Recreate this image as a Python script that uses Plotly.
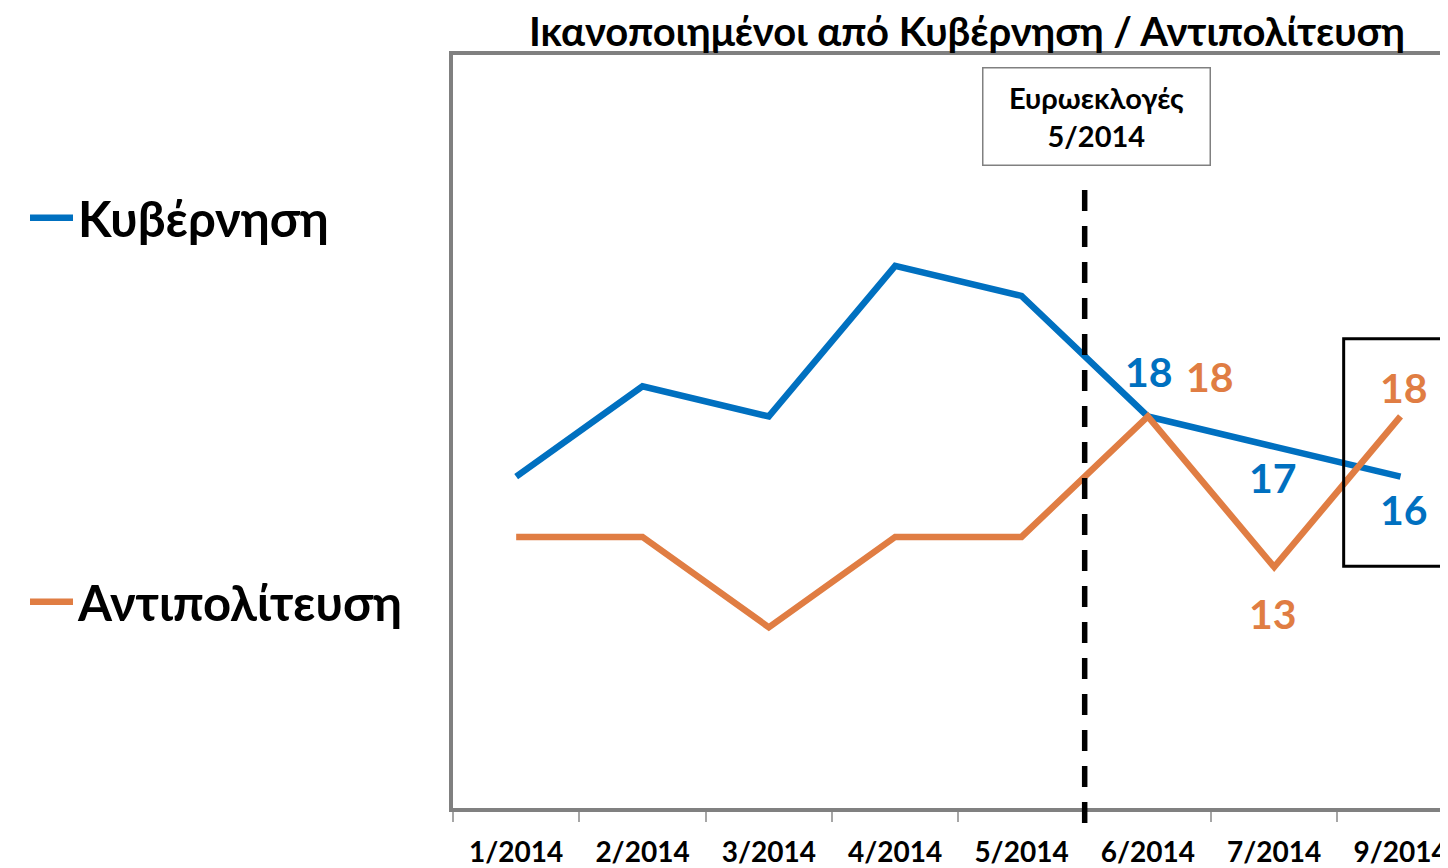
import plotly.graph_objects as go

months = ["1/2014", "2/2014", "3/2014", "4/2014", "5/2014", "6/2014", "7/2014", "9/2014"]
gov = [16, 19, 18, 23, 22, 18, 17, 16]
opp = [14, 14, 11, 14, 14, 18, 13, 18]
gov_name = "Κυβέρνηση"
opp_name = "Αντιπολίτευση"
title_text = "Ικανοποιημένοι από Κυβέρνηση / Αντιπολίτευση"
event_text = "Ευρωεκλογές<br>5/2014"

BLUE = "#0070C0"
ORANGE = "#E07D43"
GRAY = "#808080"
FONT = "Lato, Carlito, 'Open Sans', sans-serif"

W, H = 1440, 860  # page body adds an 8px offset
OFF = 8

fig = go.Figure()
fig.add_trace(go.Scatter(x=months, y=gov, mode="lines", name=gov_name,
                         line=dict(color=BLUE, width=6.5), legend="legend"))
fig.add_trace(go.Scatter(x=months, y=opp, mode="lines", name=opp_name,
                         line=dict(color=ORANGE, width=6.5), legend="legend2"))

# data labels (last three months)
labels = [
    (5, gov[5], BLUE, 1, 45),
    (6, gov[6], BLUE, -1, -31),
    (7, gov[7], BLUE, 3, -33),
    (5, opp[5], ORANGE, 62, 40),
    (6, opp[6], ORANGE, -1, -46),
    (7, opp[7], ORANGE, 3, 29),
]
for i, v, c, dx, dy in labels:
    fig.add_annotation(x=months[i], y=v, xref="x", yref="y", text=str(v),
                       showarrow=False, xshift=dx, yshift=dy,
                       font=dict(family=FONT, size=41, color=c, weight="bold"))

# elections marker
fig.add_shape(type="line", xref="x", yref="paper", x0=4.5, x1=4.5, y0=-0.02, y1=(810 - 180) / 755,
              line=dict(color="black", width=5.5, dash="21px,15px"))
fig.add_annotation(x=4.5, y=28, xref="x", yref="y", text=event_text, showarrow=False,
                   xshift=12, yshift=-1, width=220, height=90, borderpad=3, bgcolor="white",
                   bordercolor=GRAY, borderwidth=1.5, align="center",
                   font=dict(family=FONT, size=29, color="black", weight="bold"))

# highlight box
fig.add_shape(type="rect", xref="x", yref="y", x0=6.55, x1=7.9, y0=13.03, y1=20.58,
              line=dict(color="black", width=3), fillcolor="rgba(0,0,0,0)")

fig.update_layout(
    width=W, height=H,
    margin=dict(l=453 - OFF, r=0, t=55 - OFF, b=H - (810 - OFF)),
    plot_bgcolor="white", paper_bgcolor="white",
    showlegend=True,
    title=dict(text=title_text, xref="container", x=(967 - OFF) / W, xanchor="center",
               yref="container", y=1 - (32 - OFF) / H, yanchor="middle",
               font=dict(family=FONT, size=40, color="black", weight="bold")),
    legend=dict(xref="container", x=17 / W, yref="container", y=1 - (218 - OFF) / H,
                yanchor="middle", xanchor="left", itemwidth=43,
                font=dict(family=FONT, size=49, color="black", weight="bold")),
    legend2=dict(xref="container", x=17 / W, yref="container", y=1 - (602 - OFF) / H,
                 yanchor="middle", xanchor="left", itemwidth=43,
                 font=dict(family=FONT, size=49, color="black", weight="bold")),
    xaxis=dict(type="category", categoryorder="array", categoryarray=months,
               range=[-0.5, 7.36], showline=True, linecolor=GRAY, linewidth=4,
               mirror=True, showgrid=False, zeroline=False,
               ticks="outside", tickson="boundaries", ticklen=10, tickwidth=2,
               tickcolor="#A6A6A6", ticklabelstandoff=16,
               tickfont=dict(family=FONT, size=28, color="black", weight="bold")),
    yaxis=dict(range=[5, 30], showline=True, linecolor=GRAY, linewidth=4,
               showgrid=False, zeroline=False, showticklabels=False, ticks=""),
)

fig.write_html("out.html")
